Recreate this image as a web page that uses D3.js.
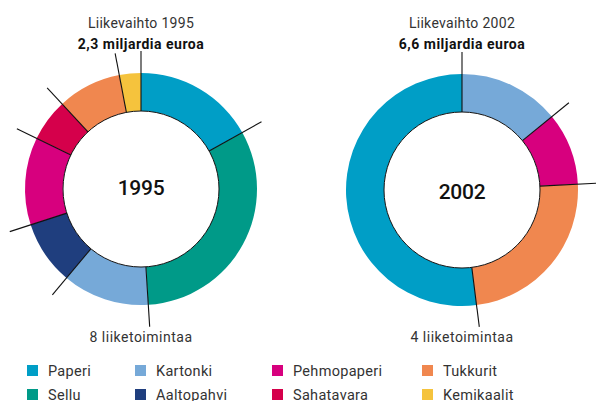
<!DOCTYPE html>
<html>
<head>
<meta charset="utf-8">
<script src="https://cdn.jsdelivr.net/npm/d3@7"></script>
<style>
  html, body { margin: 0; padding: 0; background: #fff; }
  svg { display: block; font-family: Roboto, "Noto Sans", sans-serif; }
</style>
</head>
<body>
<svg id="chart" width="596" height="401"></svg>
<script>
// Liikevaihto by business area, shares in percent, clockwise from 12 o'clock
const names1995 = ['Paperi', 'Sellu', 'Kartonki', 'Aaltopahvi', 'Pehmopaperi', 'Sahatavara', 'Tukkurit', 'Kemikaalit'];
const share1995 = [16.9, 32.1, 12.1, 8.9, 12.2, 5.9, 8.9, 3.0];
const names2002 = ['Kartonki', 'Pehmopaperi', 'Tukkurit', 'Paperi'];
const share2002 = [14.1, 10.1, 23.8, 52.0];

const legendColumns = [
  ['Paperi', 'Sellu'],
  ['Kartonki', 'Aaltopahvi'],
  ['Pehmopaperi', 'Sahatavara'],
  ['Tukkurit', 'Kemikaalit']
];

const colors = {
  Paperi: '#009ec6',
  Sellu: '#009a88',
  Kartonki: '#76a9d8',
  Aaltopahvi: '#1f3e7e',
  Pehmopaperi: '#d7007e',
  Sahatavara: '#d5004b',
  Tukkurit: '#f0874f',
  Kemikaalit: '#f5c33d'
};

const panels = [
  { cx: 141, cy: 189, names: names1995, values: share1995, title: 'Liikevaihto 1995', total: '2,3 miljardia euroa', year: '1995', yearY: 195, note: '8 liiketoimintaa' },
  { cx: 462, cy: 190, names: names2002, values: share2002, title: 'Liikevaihto 2002', total: '6,6 miljardia euroa', year: '2002', yearY: 199, note: '4 liiketoimintaa' }
];

const svg = d3.select('#chart');
const innerR = 78, outerR = 116, tickR = 138;

const pie = d3.pie().sort(null).value(d => d.value);
const arc = d3.arc().innerRadius(innerR).outerRadius(outerR);

panels.forEach(p => {
  const data = p.names.map((name, i) => ({ name, value: p.values[i] }));
  const g = svg.append('g').attr('transform', `translate(${p.cx},${p.cy})`);
  const slices = pie(data);

  g.selectAll('path.slice')
    .data(slices)
    .join('path')
    .attr('class', 'slice')
    .attr('d', arc)
    .attr('fill', d => colors[d.data.name]);

  g.append('circle')
    .attr('r', innerR)
    .attr('fill', '#fff')
    .attr('stroke', '#111')
    .attr('stroke-width', 1);

  // divider ticks at each slice boundary
  g.selectAll('line.tick')
    .data(slices)
    .join('line')
    .attr('class', 'tick')
    .attr('x1', d => innerR * Math.sin(d.startAngle))
    .attr('y1', d => -innerR * Math.cos(d.startAngle))
    .attr('x2', d => tickR * Math.sin(d.startAngle))
    .attr('y2', d => -tickR * Math.cos(d.startAngle))
    .attr('stroke', '#111')
    .attr('stroke-width', 1.1);

  g.append('text')
    .attr('y', p.yearY - p.cy)
    .attr('text-anchor', 'middle')
    .attr('font-size', '21px')
    .attr('font-weight', 500)
    .attr('letter-spacing', '-0.3px')
    .attr('fill', '#111')
    .text(p.year);

  svg.append('text')
    .attr('x', p.cx)
    .attr('y', 28)
    .attr('text-anchor', 'middle')
    .attr('font-size', '14px')
    .attr('letter-spacing', '0.3px')
    .attr('fill', '#333')
    .text(p.title);

  svg.append('text')
    .attr('x', p.cx)
    .attr('y', 49)
    .attr('text-anchor', 'middle')
    .attr('font-size', '14px')
    .attr('font-weight', 700)
    .attr('letter-spacing', '0.5px')
    .attr('fill', '#111')
    .text(p.total);

  svg.append('text')
    .attr('x', p.cx)
    .attr('y', 342)
    .attr('text-anchor', 'middle')
    .attr('font-size', '14px')
    .attr('letter-spacing', '0.5px')
    .attr('fill', '#333')
    .text(p.note);
});

// legend
const colX = [27, 135, 272, 422];
const rowY = [365, 389];
const legend = svg.append('g');
legendColumns.forEach((col, ci) => {
  col.forEach((name, ri) => {
    legend.append('rect')
      .attr('x', colX[ci])
      .attr('y', rowY[ri])
      .attr('width', 11)
      .attr('height', 11)
      .attr('fill', colors[name]);
    legend.append('text')
      .attr('x', colX[ci] + 21)
      .attr('y', rowY[ri] + 11)
      .attr('font-size', '14.5px')
      .attr('letter-spacing', '0.3px')
      .attr('fill', '#333')
      .text(name);
  });
});
</script>
</body>
</html>
